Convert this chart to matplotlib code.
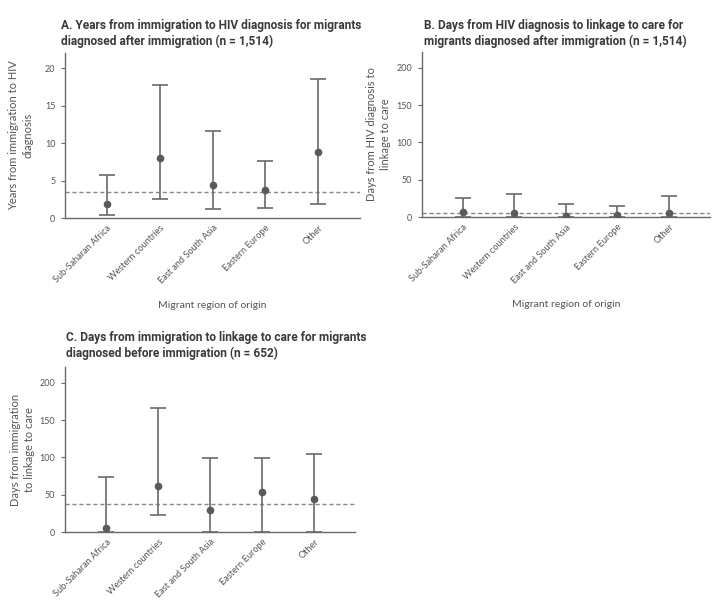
import numpy as np
import matplotlib
matplotlib.use("Agg")
import matplotlib.pyplot as plt

regions = ["Sub-Saharan Africa", "Western countries", "East and South Asia",
           "Eastern Europe", "Other"]

# A. years from immigration to HIV diagnosis
a_median = [1.9, 8.0, 4.4, 3.7, 8.8]
a_low = [0.4, 2.5, 1.2, 1.3, 1.9]
a_high = [5.7, 17.7, 11.6, 7.6, 18.5]
a_overall = 3.5

# B. days from HIV diagnosis to linkage to care
b_median = [7, 6, 2, 3, 6]
b_low = [0, 0, 0, 0, 0]
b_high = [26, 31, 18, 15, 28]
b_overall = 6

# C. days from immigration to linkage to care
c_median = [5, 61, 29, 53, 44]
c_low = [0, 23, 0, 0, 0]
c_high = [74, 166, 99, 99, 104]
c_overall = 37

plt.rcParams['font.family'] = ['Lato', 'DejaVu Sans']

grey = "#6a6a6a"
txt = "#555555"

fig = plt.figure(figsize=(7.25, 6.08), dpi=100)

panels = [
    dict(rect=[0.0897, 0.6414, 0.4069, 0.2714], med=a_median, lo=a_low, hi=a_high,
         ref=a_overall, ylim=22, ticks=[0, 5, 10, 15, 20],
         ylabel="Years from immigration to HIV\ndiagnosis", ylx=-0.108, xlabel=True,
         title="A. Years from immigration to HIV diagnosis for migrants\ndiagnosed after immigration (n = 1,514)",
         tx=61, ty=19),
    dict(rect=[0.582, 0.643, 0.397, 0.2715], med=b_median, lo=b_low, hi=b_high,
         ref=b_overall, ylim=221, ticks=[0, 50, 100, 150, 200],
         ylabel="Days from HIV diagnosis to\nlinkage to care", ylx=-0.108, xlabel=True,
         title="B. Days from HIV diagnosis to linkage to care for\nmigrants diagnosed after immigration (n = 1,514)",
         tx=424, ty=19),
    dict(rect=[0.0897, 0.125, 0.4, 0.2714], med=c_median, lo=c_low, hi=c_high,
         ref=c_overall, ylim=221, ticks=[0, 50, 100, 150, 200],
         ylabel="Days from immigration\nto linkage to care", ylx=-0.103, xlabel=False,
         title="C. Days from immigration to linkage to care for migrants\ndiagnosed before immigration (n = 652)",
         tx=66, ty=331),
]

for p in panels:
    ax = fig.add_axes(p["rect"])
    x = np.arange(len(regions))
    med = np.array(p["med"])
    err = [med - np.array(p["lo"]), np.array(p["hi"]) - med]
    ax.errorbar(x, med, yerr=err, fmt="o", color="#5a5a5a", ecolor=grey,
                elinewidth=1.2, capsize=6, capthick=1.2, markersize=4.5, zorder=3)
    ax.axhline(p["ref"], color="#888888", linestyle=(0, (3, 2)), linewidth=1, zorder=2)
    ax.set_xlim(-0.79, 4.79)
    ax.set_ylim(0, p["ylim"])
    ax.set_yticks(p["ticks"])
    ax.set_xticks(x)
    ax.set_xticklabels(regions, rotation=45, ha="right", rotation_mode="anchor",
                       fontsize=6.6, color=txt)
    ax.tick_params(axis="x", length=0, pad=4)
    ax.tick_params(axis="y", length=3, width=0.8, color=grey, labelsize=6.5,
                   labelcolor=txt, pad=4)
    for s in ["top", "right"]:
        ax.spines[s].set_visible(False)
    for s in ["left", "bottom"]:
        ax.spines[s].set_color(grey)
        ax.spines[s].set_linewidth(1)
    ax.set_ylabel(p["ylabel"], fontsize=8, color=txt, linespacing=1.3)
    ax.yaxis.set_label_coords(p["ylx"], 0.5)
    if p["xlabel"]:
        ax.set_xlabel("Migrant region of origin", fontsize=7.5, color=txt)
        ax.xaxis.set_label_coords(0.5, -0.5)
    fig.text(p["tx"] / 725, 1 - p["ty"] / 608, p["title"], ha="left", va="top",
             fontsize=8.6, fontweight="bold", color="#3a3a3a",
             family=["Roboto", "DejaVu Sans"], linespacing=1.25)

fig.savefig("out.png", dpi=100)
